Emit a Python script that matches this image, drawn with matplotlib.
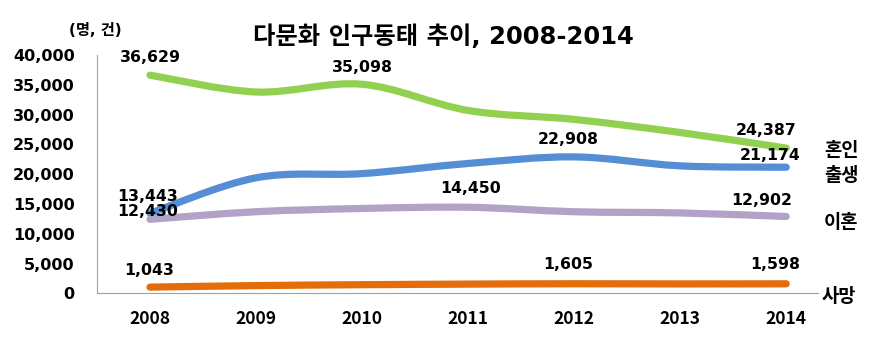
import matplotlib.pyplot as plt
from matplotlib.path import Path
from matplotlib.patches import PathPatch
from matplotlib.ticker import FuncFormatter

plt.rcParams["font.family"] = ["Noto Sans CJK KR", "DejaVu Sans"]
NUM_FONT = ["DejaVu Sans", "Noto Sans CJK KR"]

# Данные
years = ["2008", "2009", "2010", "2011", "2012", "2013", "2014"]
marriage = [36629, 33800, 35098, 30700, 29200, 27000, 24387]
birth = [13443, 19400, 20100, 21800, 22908, 21400, 21174]
divorce = [12430, 13700, 14250, 14450, 13700, 13500, 12902]
death = [1043, 1300, 1450, 1550, 1605, 1580, 1598]

names = ["혼인", "출생", "이혼", "사망"]
colors = ["#92D050", "#558ED5", "#B3A2C7", "#E46C0A"]

# Подписи значений: (серия, индекс, dx, dy) в пикселях
value_labels = [
    (0, 0, 0, 18), (0, 2, 0, 17), (0, 6, -20, 18),
    (1, 0, -2, 17), (1, 4, -6, 17), (1, 6, -16, 12),
    (2, 0, -2, 8), (2, 3, 2, 19), (2, 6, -25, 16),
    (3, 0, -1, 17), (3, 4, -6, 19), (3, 6, -11, 19),
]
name_offsets = [(55, -2), (55, -8), (55, -6), (53, -13)]


def smooth_path(xs, ys):
    # Сглаженная линия как в Excel (кривые Безье)
    pts = list(zip(xs, ys))
    verts = [pts[0]]
    codes = [Path.MOVETO]
    n = len(pts)
    for i in range(n - 1):
        p0 = pts[max(i - 1, 0)]
        p1 = pts[i]
        p2 = pts[i + 1]
        p3 = pts[min(i + 2, n - 1)]
        c1 = (p1[0] + (p2[0] - p0[0]) / 6, p1[1] + (p2[1] - p0[1]) / 6)
        c2 = (p2[0] - (p3[0] - p1[0]) / 6, p2[1] - (p3[1] - p1[1]) / 6)
        verts += [c1, c2, p2]
        codes += [Path.CURVE4] * 3
    return Path(verts, codes)


fig = plt.figure(figsize=(8.86, 3.53), dpi=100)
ax = fig.add_axes([97 / 886, 0.169, 721 / 886, 0.675])

series = [marriage, birth, divorce, death]
x = list(range(len(years)))
for vals, col in zip(series, colors):
    patch = PathPatch(smooth_path(x, vals), facecolor="none", edgecolor=col,
                      linewidth=5.2, capstyle="round", joinstyle="round")
    ax.add_patch(patch)

for s, i, dx, dy in value_labels:
    ax.annotate(f"{series[s][i]:,}", (x[i], series[s][i]), xytext=(dx, dy),
                textcoords="offset pixels", ha="center", va="center",
                fontsize=11.3, fontweight="bold", family=NUM_FONT)

for vals, name, (dx, dy) in zip(series, names, name_offsets):
    ax.annotate(name, (x[-1], vals[-1]), xytext=(dx, dy),
                textcoords="offset pixels", ha="center", va="center",
                fontsize=13.5, fontweight="bold", annotation_clip=False,
                bbox=dict(facecolor="white", edgecolor="none", pad=0.5))

ax.set_xlim(-0.5, 6.3)
ax.set_ylim(0, 40000)
ax.set_xticks(x)
ax.set_xticklabels(years, fontsize=12.5, fontweight="bold")
ax.set_yticks(range(0, 40001, 5000))
ax.yaxis.set_major_formatter(FuncFormatter(lambda v, p: f"{int(v):,}"))
for lab in ax.get_yticklabels():
    lab.set_fontsize(11.5)
    lab.set_fontweight("bold")
    lab.set_family(NUM_FONT)
ax.tick_params(axis="y", length=0, pad=16)
ax.tick_params(axis="x", length=0, pad=12)

ax.spines["right"].set_visible(False)
ax.spines["top"].set_visible(False)
ax.spines["left"].set_color("#A0A0A0")
ax.spines["bottom"].set_color("#A0A0A0")

fig.text(0.5, 0.895, "다문화 인구동태 추이, 2008-2014", ha="center", va="center",
         fontsize=17.5, fontweight="bold", family=NUM_FONT)
fig.text(95 / 886, 0.915, "(명, 건)", ha="center", va="center",
         fontsize=11, fontweight="bold", family=NUM_FONT)

fig.savefig("out.png", dpi=100)
